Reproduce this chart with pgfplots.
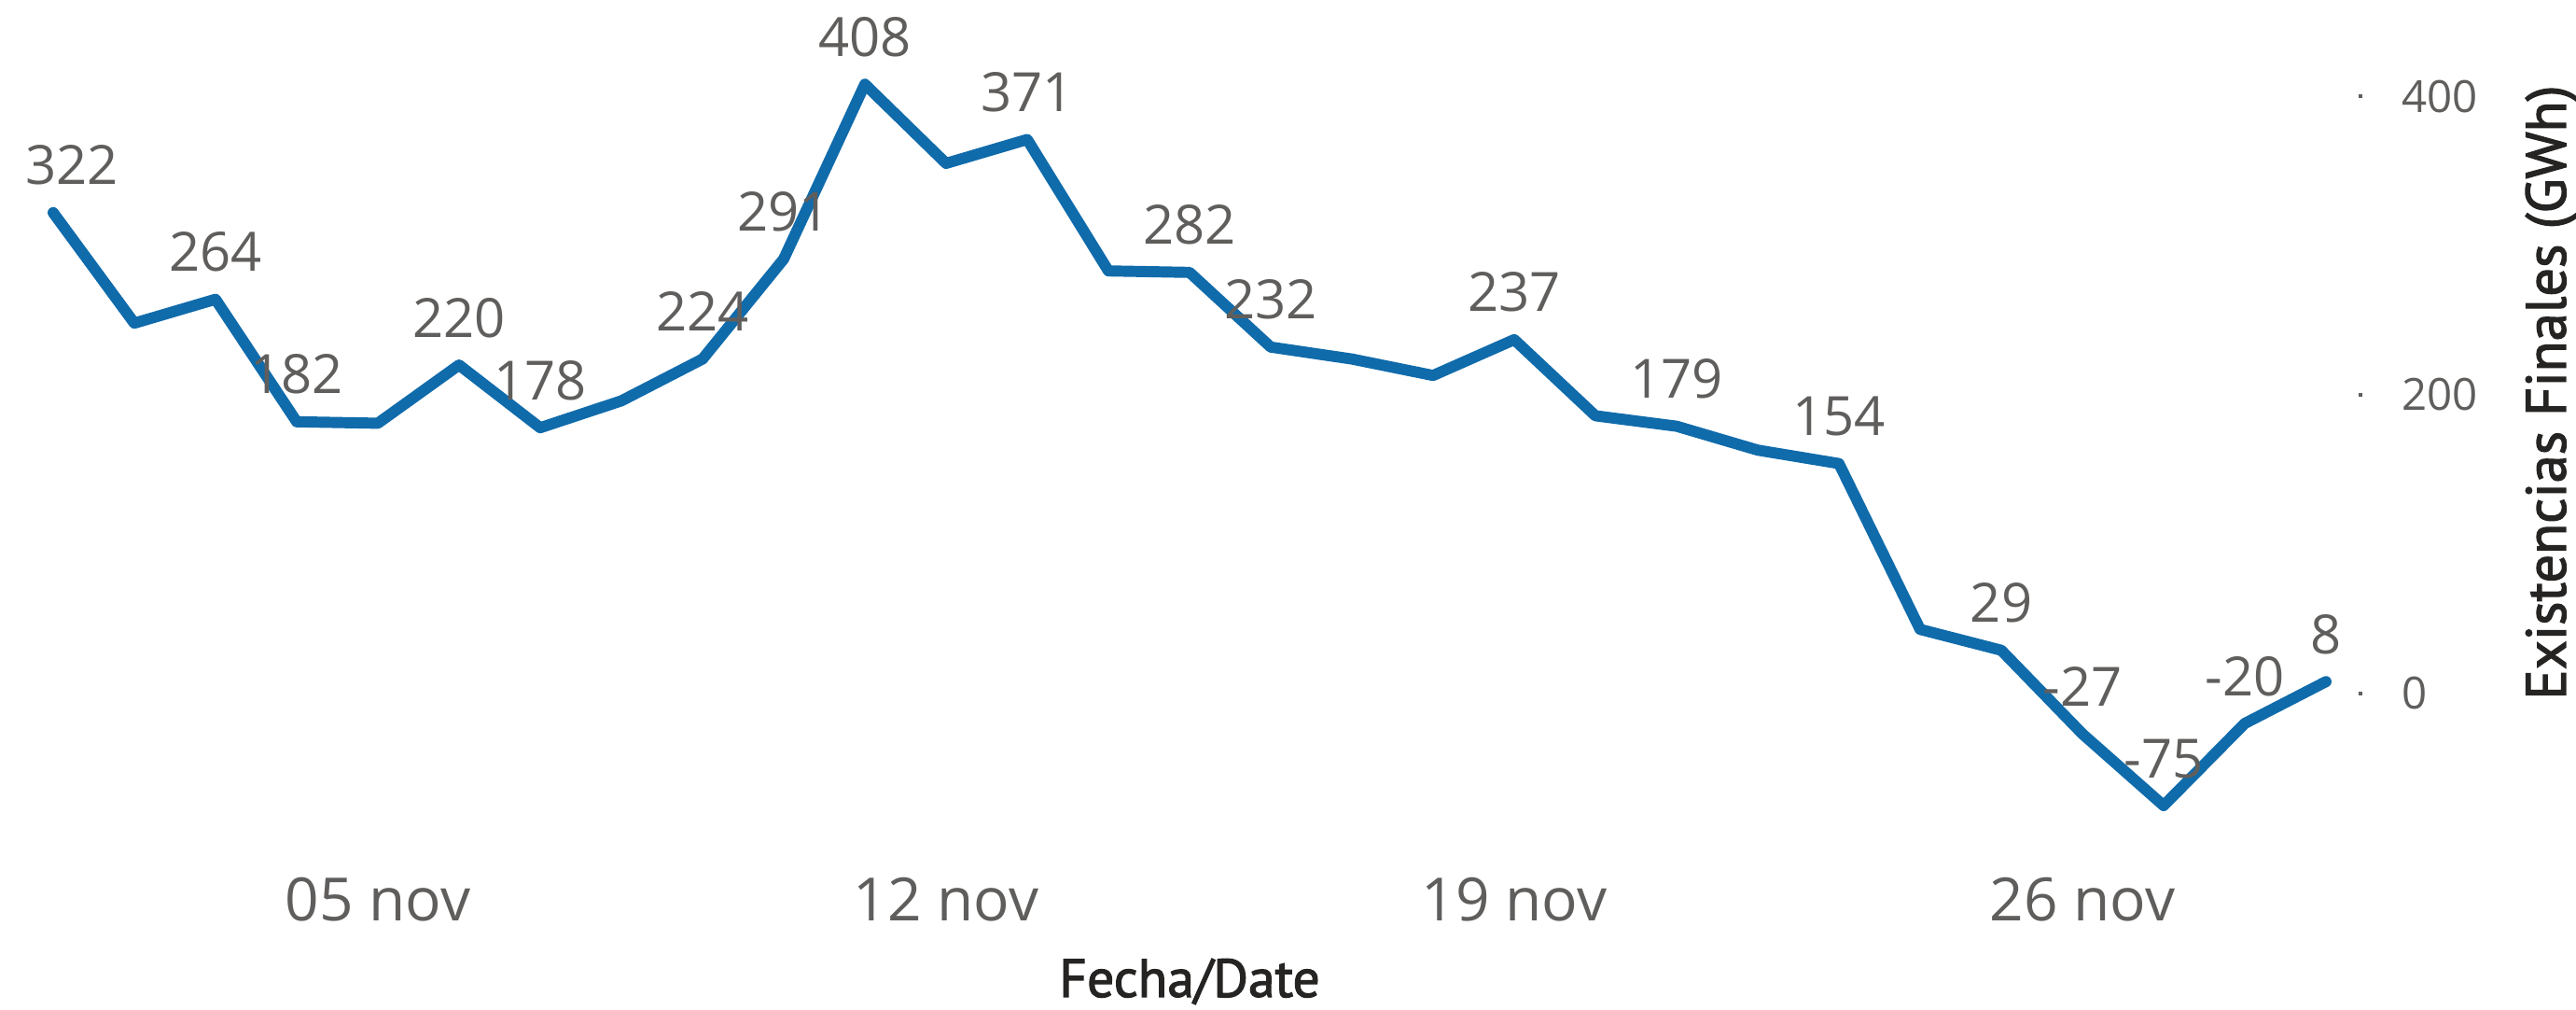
\documentclass[border=0pt]{standalone}
\usepackage{fontspec}
\setmainfont{Open Sans}
\newfontfamily\dinfont{PT Sans}[FakeBold=2]
\usepackage{pgfplots}
\usepackage{pgfplotstable}
\pgfplotsset{compat=1.18}
\definecolor{lineBlue}{RGB}{16,107,171}
\definecolor{labGrey}{RGB}{96,94,92}
\definecolor{titleInk}{RGB}{37,36,35}

% existencias finales diarias, noviembre (dia, GWh)
\pgfplotstableread{
x y
1 322
2 248
3 264
4 182
5 181
6 220
7 178
8 196
9 224
10 291
11 408
12 355
13 371
14 283
15 282
16 232
17 224
18 213
19 237
20 186
21 179
22 163
23 154
24 43
25 29
26 -27
27 -75
28 -20
29 8
}\existencias

% puntos con etiqueta visible
\pgfplotstableread{
x y lab
3 264 264
4 182 182
6 220 220
7 178 178
9 224 224
10 291 291
11 408 408
13 371 371
15 282 282
16 232 232
19 237 237
21 179 179
23 154 154
25 29 29
26 -27 -27
27 -75 -75
28 -20 -20
29 8 8
}\etiquetas

\begin{document}
\begin{tikzpicture}
\useasboundingbox (-0.2cm,-1.62cm) rectangle (27.41cm,9.19cm);
\begin{axis}[
  at={(0,0)}, anchor=south west,
  scale only axis,
  width=25.1cm, height=8.8cm,
  xmin=0.5747, xmax=29.4253,
  ymin=-110, ymax=440,
  clip=false,
  axis line style={draw=none},
  xtick={5,12,19,26},
  xticklabels={05 nov,12 nov,19 nov,26 nov},
  xtick style={draw=none},
  ytick={0,200,400},
  ytick pos=right,
  yticklabel pos=right,
  ytick style={draw=labGrey, line width=0.4mm},
  major tick length=0.4mm,
  tick align=center,
  /pgf/number format/assume math mode=true,
  xticklabel style={font=\fontsize{18.2}{20}\selectfont, text=labGrey, anchor=north, inner sep=0pt, yshift=-1.8mm},
  yticklabel style={font=\fontsize{13.5}{15}\selectfont, text=labGrey, anchor=west, inner sep=0pt, xshift=4.2mm},
  xlabel={Fecha/Date},
  ylabel={Existencias Finales (GWh)},
  every axis x label/.style={at={(axis description cs:0.5,-0.1693)}, anchor=base, inner sep=0pt,
    font=\dinfont\fontsize{16.4}{18}\selectfont, text=titleInk},
  every axis y label/.style={at={(axis description cs:1.0876,0.5665)}, rotate=90, anchor=base, inner sep=0pt,
    font=\dinfont\fontsize{17.2}{19}\selectfont, text=titleInk},
]
\addplot[lineBlue, line width=3.4pt, line join=round, line cap=round, mark=none]
  table[x=x,y=y] {\existencias};

\addplot[draw=none, mark=none, forget plot, point meta=explicit symbolic,
  nodes near coords={\pgfplotspointmeta},
  every node near coord/.style={anchor=base, inner sep=0pt, yshift=3mm,
    font=\fontsize{16.5}{18}\selectfont, text=labGrey}]
  table[x=x,y=y,meta=lab] {\etiquetas};

% la primera etiqueta queda desplazada hacia la derecha
\addplot[draw=none, mark=none, forget plot, point meta=explicit symbolic,
  nodes near coords={\pgfplotspointmeta},
  every node near coord/.style={anchor=base, inner sep=0pt, yshift=3mm, xshift=2mm,
    font=\fontsize{16.5}{18}\selectfont, text=labGrey}]
  coordinates {(1,322) [322]};
\end{axis}
\end{tikzpicture}
\end{document}
